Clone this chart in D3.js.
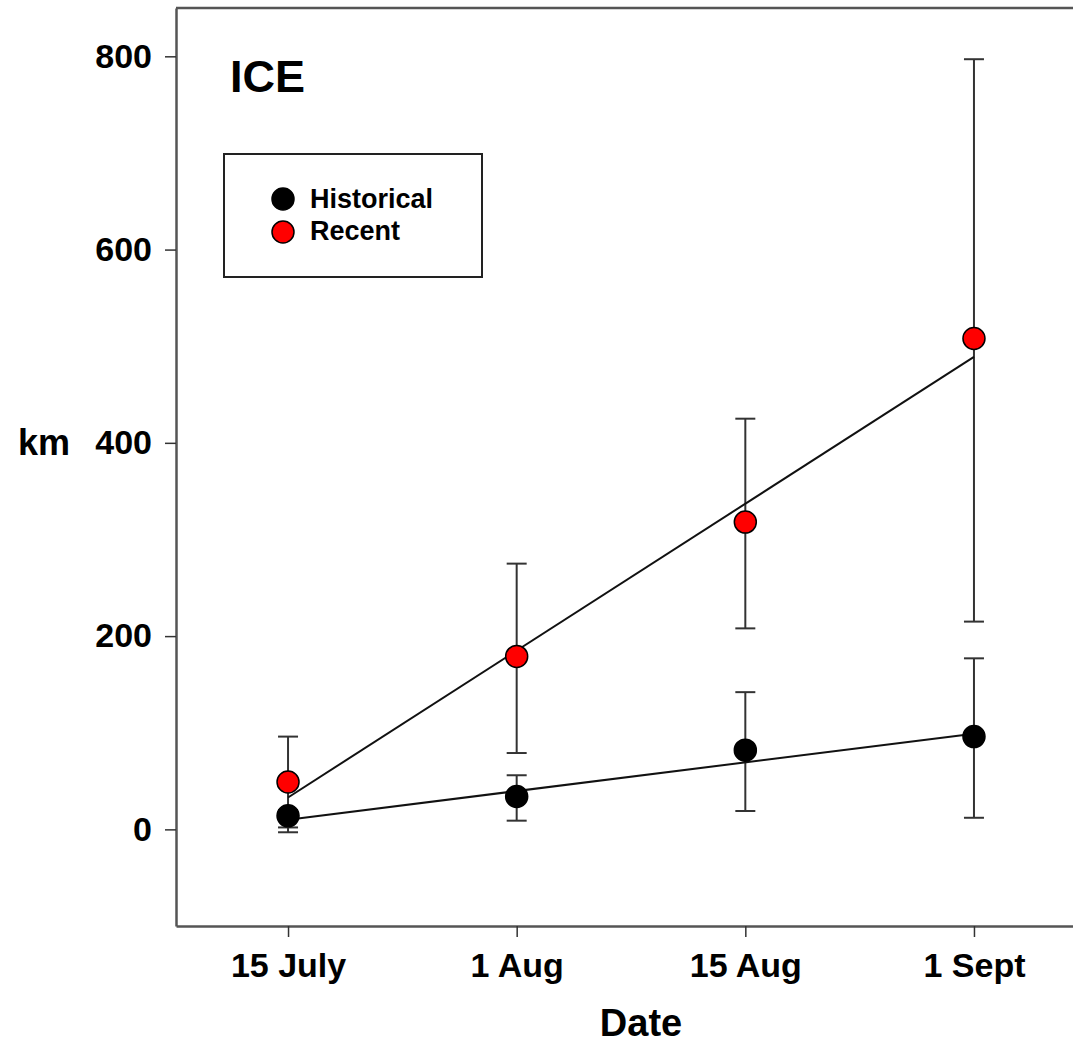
<!DOCTYPE html>
<html>
<head>
<meta charset="utf-8">
<script src="https://cdn.jsdelivr.net/npm/d3@7"></script>
<style>
  body { margin: 0; background: #fff; }
  text { font-family: "Liberation Sans", Arial, sans-serif; font-weight: bold; fill: #000; }
</style>
</head>
<body>
<div id="chart"></div>
<script>
// data
var dates = ["15 July", "1 Aug", "15 Aug", "1 Sept"];
var yTicks = [0, 200, 400, 600, 800];

var historicalMean = [14, 34, 82, 96];
var historicalLow = [-3, 9, 19, 12];
var historicalHigh = [20, 56, 142, 177];

var recentMean = [49, 179, 318, 508];
var recentLow = [2, 79, 208, 215];
var recentHigh = [96, 275, 425, 797];

// fitted lines, value at first and last date
var historicalFit = [10, 99];
var recentFit = [33, 489];

var W = 1073, H = 1042;
var plotLeft = 176, plotTop = 8, plotBottom = 926, plotRight = 1086;

var svg = d3.select("#chart")
    .append("svg")
    .attr("width", W)
    .attr("height", H);

var x = d3.scalePoint()
    .domain(dates)
    .range([plotLeft, plotRight])
    .padding(0.49);

var y = d3.scaleLinear()
    .domain([-100, 850])
    .range([plotBottom, plotTop]);

var frameColor = "#555";

// frame top
svg.append("line")
    .attr("x1", plotLeft).attr("x2", W + 5)
    .attr("y1", plotTop).attr("y2", plotTop)
    .attr("stroke", frameColor)
    .attr("stroke-width", 2.5);

// y axis
var yAxis = svg.append("g")
    .attr("transform", `translate(${plotLeft},0)`)
    .call(d3.axisLeft(y).tickValues(yTicks).tickSize(11).tickSizeOuter(0).tickPadding(13));
yAxis.select(".domain").attr("stroke", frameColor).attr("stroke-width", 2.5);
yAxis.selectAll(".tick line").attr("stroke", "#333").attr("stroke-width", 1.5);
yAxis.selectAll(".tick text")
    .attr("font-size", "34px")
    .attr("font-family", null)
    .attr("fill", "#000");

// x axis
var xAxis = svg.append("g")
    .attr("transform", `translate(0,${plotBottom})`)
    .call(d3.axisBottom(x).tickSize(11).tickSizeOuter(0).tickPadding(16));
xAxis.select(".domain").attr("stroke", frameColor).attr("stroke-width", 2.5);
xAxis.selectAll(".tick line").attr("stroke", "#333").attr("stroke-width", 1.5);
xAxis.selectAll(".tick text")
    .attr("font-size", "34px")
    .attr("font-family", null)
    .attr("fill", "#000");

// axis titles
svg.append("text")
    .attr("x", 641)
    .attr("y", 1036)
    .attr("text-anchor", "middle")
    .attr("font-size", "38px")
    .text("Date");

svg.append("text")
    .attr("x", 18)
    .attr("y", 455)
    .attr("font-size", "36px")
    .text("km");

// panel label
svg.append("text")
    .attr("x", 230)
    .attr("y", 92)
    .attr("font-size", "45px")
    .text("ICE");

var series = [
    {name: "Historical", mean: historicalMean, low: historicalLow, high: historicalHigh, fit: historicalFit, fill: "#000"},
    {name: "Recent", mean: recentMean, low: recentLow, high: recentHigh, fit: recentFit, fill: "#ff0000"}
];

// error bars
series.forEach(function(s) {
    var g = svg.append("g").attr("stroke", "#333").attr("stroke-width", 2);
    dates.forEach(function(d, i) {
        g.append("line")
            .attr("x1", x(d)).attr("x2", x(d))
            .attr("y1", y(s.low[i])).attr("y2", y(s.high[i]));
        [s.low[i], s.high[i]].forEach(function(v) {
            g.append("line")
                .attr("x1", x(d) - 10).attr("x2", x(d) + 10)
                .attr("y1", y(v)).attr("y2", y(v));
        });
    });
});

// fitted lines
series.forEach(function(s) {
    svg.append("line")
        .attr("x1", x(dates[0])).attr("y1", y(s.fit[0]))
        .attr("x2", x(dates[dates.length - 1])).attr("y2", y(s.fit[1]))
        .attr("stroke", "#111")
        .attr("stroke-width", 2);
});

// points
series.forEach(function(s) {
    svg.selectAll(null)
        .data(s.mean)
        .enter()
        .append("circle")
        .attr("cx", (d, i) => x(dates[i]))
        .attr("cy", d => y(d))
        .attr("r", 11)
        .attr("fill", s.fill)
        .attr("stroke", "#000")
        .attr("stroke-width", 1.5);
});

// legend
var legend = svg.append("g");
legend.append("rect")
    .attr("x", 224).attr("y", 154)
    .attr("width", 258).attr("height", 123)
    .attr("fill", "none")
    .attr("stroke", "#222")
    .attr("stroke-width", 2);

series.forEach(function(s, i) {
    legend.append("circle")
        .attr("cx", 283)
        .attr("cy", 199 + i * 33)
        .attr("r", 11)
        .attr("fill", s.fill)
        .attr("stroke", "#000")
        .attr("stroke-width", 1.5);
    legend.append("text")
        .attr("x", 310)
        .attr("y", 208 + i * 32)
        .attr("font-size", "27px")
        .text(s.name);
});
</script>
</body>
</html>
